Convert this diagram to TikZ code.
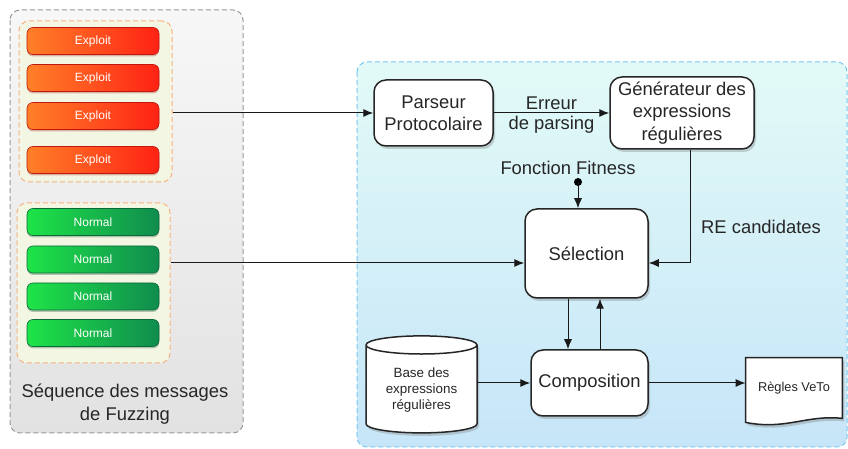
\documentclass[tikz,border=0pt]{standalone}
\usepackage{fontspec}
\setmainfont{Liberation Sans}
\usetikzlibrary{arrows.meta}
\usetikzlibrary{calc,positioning}
\usetikzlibrary{shapes.geometric,shadows}
\tikzset{>={Latex[length=5pt,width=4pt]}}
\definecolor{exploitL}{RGB}{255,128,40}
\definecolor{exploitR}{RGB}{255,34,20}
\definecolor{normalL}{RGB}{30,228,72}
\definecolor{normalR}{RGB}{16,140,78}
\definecolor{seqtop}{RGB}{247,247,247}
\definecolor{seqbot}{RGB}{226,226,226}
\definecolor{systop}{RGB}{226,250,247}
\definecolor{sysbot}{RGB}{198,229,248}
\definecolor{grpfill}{RGB}{243,246,226}
\definecolor{grpline}{RGB}{246,178,128}
\definecolor{sysline}{RGB}{120,200,240}
\colorlet{txtcol}{black!85}
\tikzstyle{message}=[rounded corners=3pt,minimum width=66pt,minimum height=13.5pt,
  inner sep=0pt,text=white,font=\fontsize{6}{7}\selectfont,line width=0.3pt]
\tikzset{
  exploitmsg/.style={message,left color=exploitL,right color=exploitR,draw=exploitR!75!black,
                     drop shadow={fill=exploitR!60!black,opacity=0.3,shadow xshift=0pt,shadow yshift=-1pt}},
  normalmsg/.style={message,left color=normalL,right color=normalR,draw=normalR!75!black,
                    drop shadow={fill=normalR!60!black,opacity=0.3,shadow xshift=0pt,shadow yshift=-1pt}},
  msggroup/.style={draw=grpline,fill=grpfill,dashed,dash pattern=on 2.5pt off 1.5pt,
                   rounded corners=5pt,line width=0.5pt},
  seqbox/.style={draw=black!40,top color=seqtop,bottom color=seqbot,dash pattern=on 2.5pt off 1.5pt,
                 rounded corners=5pt,line width=0.5pt},
  sysbox/.style={draw=sysline,top color=systop,bottom color=sysbot,dash pattern=on 2.5pt off 1.5pt,
                 rounded corners=5pt,line width=0.5pt},
  block/.style={draw=black!85,fill=white,line width=0.75pt,rounded corners=6pt,align=center,
                inner sep=2pt,text=txtcol,font=\fontsize{9.2}{11.2}\selectfont,
                drop shadow={opacity=0.35,shadow xshift=1pt,shadow yshift=-1.5pt}},
  label text/.style={align=center,text=txtcol,font=\fontsize{9.2}{11.2}\selectfont},
  flow/.style={->,line width=0.5pt,black!90}
}

\begin{document}
\begin{tikzpicture}[x=0.5pt,y=-0.5pt]
  \useasboundingbox (0,0) rectangle (848,449);

  % CONTAINERS
  \draw[seqbox] (10,10) rectangle (243,433);
  \draw[sysbox] (357,62) rectangle (847,447);
  \node[msggroup,minimum width=76.5pt,minimum height=80.5pt] (exploits) at (95.5,101.5) {};
  \node[msggroup,minimum width=76.5pt,minimum height=80pt] (normals) at (93.5,283) {};
  \node[label text] (seqlabel) at (125,404) {Séquence des messages\\de Fuzzing};

  % MESSAGES
  \foreach \y [count=\i] in {41,78,116,160}
    \node[exploitmsg] (exploit\i) at (93,\y) {Exploit};
  \foreach \y [count=\i] in {222,259.5,296.5,333}
    \node[normalmsg] (normal\i) at (93,\y) {Normal};

  % BLOCKS
  \node[block,minimum width=59.5pt,minimum height=33pt] (parseur) at (433.5,113) {Parseur\\Protocolaire};
  \node[block,minimum width=72pt,minimum height=36pt] (generateur) at (682,113) {Générateur des\\expressions\\régulières};
  \node[block,minimum width=61.5pt,minimum height=44.5pt] (selection) at (586.5,253.5) {Sélection};
  \node[block,minimum width=58.5pt,minimum height=33pt] (composition) at (589.5,383) {Composition};
  \node[cylinder,shape border rotate=90,aspect=0.24,draw=black!85,fill=white,line width=0.75pt,
        minimum width=55.5pt,minimum height=48.5pt,align=center,inner sep=1pt,text=txtcol,
        font=\fontsize{6.7}{8}\selectfont,
        drop shadow={opacity=0.35,shadow xshift=1pt,shadow yshift=-1.5pt}] (base) at (421.5,390.5)
        {Base des\\expressions\\régulières};
  \node[minimum width=48pt,minimum height=30pt,inner sep=0pt,text=txtcol,
        font=\fontsize{6.4}{7.5}\selectfont] (veto) at (794,388) {};
  \draw[fill=white,draw=black!85,line width=0.75pt,
        drop shadow={opacity=0.35,shadow xshift=1pt,shadow yshift=-1.5pt}]
    (veto.north west) -- (veto.north east) -- (veto.south east)
    .. controls +(-35,-4) and +(40,8) .. ($(veto.south west)+(0,4)$) -- cycle;
  \node[text=txtcol,font=\fontsize{6.4}{7.5}\selectfont] (vetotext) at (veto) {Règles VeTo};

  % LINKS
  \coordinate (selW) at ($(selection.west)+(0,9.5)$);
  \coordinate (selE) at ($(selection.east)+(0,9.5)$);
  \coordinate (fitness) at (578,182);
  \coordinate (down) at ($(selection.south)+(-18.5,0)$);
  \coordinate (up) at ($(selection.south)+(13.5,0)$);
  \node[label text] (fitlabel) at (568,168) {Fonction Fitness};
  \node[label text] (relabel) at (761,227) {RE candidates};

  \draw[flow] (exploits.east |- parseur.west) -- (parseur.west);
  \draw[flow] (normals.east |- selW) -- (selW);
  \draw[flow] (parseur.east) -- (generateur.west)
    node[midway,above,label text,inner sep=1.5pt] {Erreur}
    node[midway,below,label text,inner sep=1.5pt] {de parsing};
  \fill (fitness) circle (2pt);
  \draw[flow] (fitness) -- (fitness |- selection.north);
  \draw[flow] ($(generateur.south)+(8,0)$) |- (selE);
  \draw[flow] (down) -- (down |- composition.north);
  \draw[flow] (up |- composition.north) -- (up);
  \draw[flow] (composition.west -| base.east) -- (composition.west);
  \draw[flow] (composition.east) -- (composition.east -| veto.west);
\end{tikzpicture}
\end{document}
